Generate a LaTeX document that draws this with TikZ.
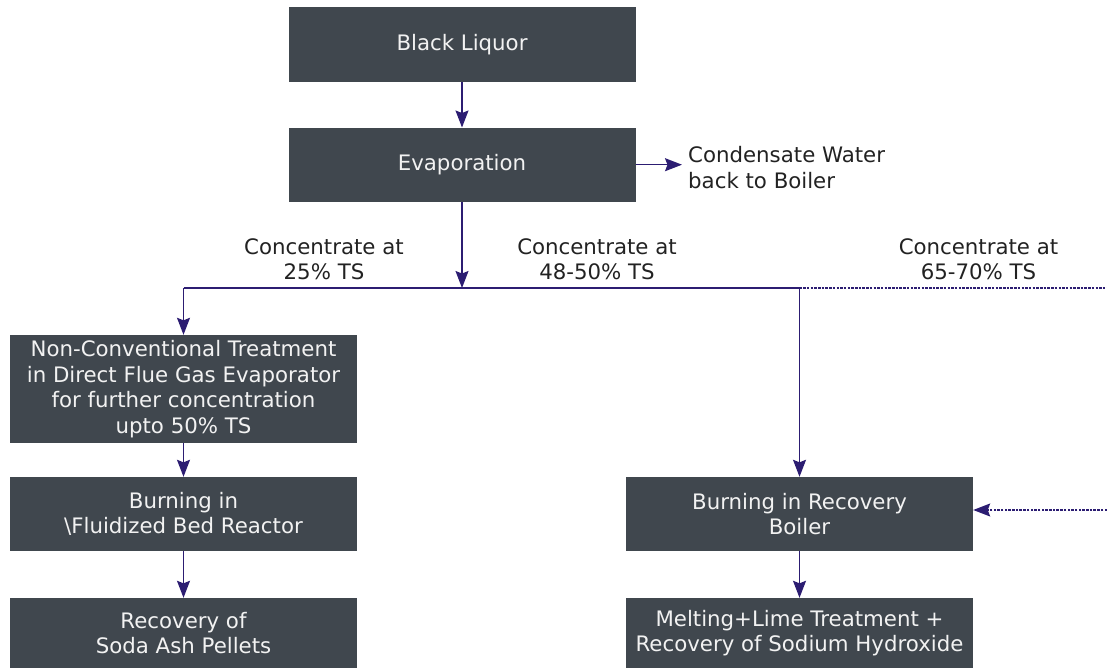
\documentclass[tikz,border=0pt]{standalone}
\usepackage{fontspec}
\setmainfont{DejaVu Sans}
\usetikzlibrary{arrows.meta}
\definecolor{boxfill}{HTML}{40474E}
\definecolor{flow}{HTML}{2C1D72}
\definecolor{ink}{HTML}{222222}
\definecolor{boxtext}{HTML}{F2F2F2}

\begin{document}
\begin{tikzpicture}[x=1pt,y=-1pt,
  stagebox/.style={fill=boxfill, text=boxtext, align=center, minimum width=347pt,
    inner sep=0pt, font=\fontsize{21.3}{25.5}\selectfont},
  flowline/.style={draw=flow, line width=1.4pt},
  tip/.style={-{Stealth[length=17pt,width=13pt,inset=2.5pt]}},
  flowarrow/.style={flowline, tip},
  dotline/.style={draw=flow, line width=1.2pt, dash pattern=on 2.5pt off 1.2pt},
  note/.style={text=ink, align=center, inner sep=0pt, font=\fontsize{21.3}{25.5}\selectfont}
]
\useasboundingbox (0,0) rectangle (1107,668);

% process stages
\node[stagebox, minimum height=75pt] (bl) at (462,44.5) {Black Liquor};
\node[stagebox, minimum height=74pt] (ev) at (462,164.7) {Evaporation};
\node[stagebox, minimum height=108pt] (nc) at (183.5,389) {Non-Conventional Treatment\\in Direct Flue Gas Evaporator\\for further concentration\\upto 50\% TS};
\node[stagebox, minimum height=74pt] (fb) at (183.5,514) {Burning in\\\textbackslash{}Fluidized Bed Reactor};
\node[stagebox, minimum height=70pt] (sa) at (183.5,633) {Recovery of\\Soda Ash Pellets};
\node[stagebox, minimum height=74pt] (rb) at (799.5,514) {Burning in Recovery\\Boiler};
\node[stagebox, minimum height=70pt] (sh) at (799.5,633) {Melting+Lime Treatment +\\Recovery of Sodium Hydroxide};

% side output
\node[note, anchor=west, align=left] (cw) at (688,167.5) {Condensate Water\\back to Boiler};

% concentration labels
\node[note] (c25) at (324,259) {Concentrate at\\25\% TS};
\node[note] (c48) at (597,259) {Concentrate at\\48-50\% TS};
\node[note] (c65) at (978.5,259) {Concentrate at\\65-70\% TS};

% split points on the distribution line
\coordinate (hub) at (462,288);
\coordinate (jl) at (183.5,288);
\coordinate (jr) at (799.5,288);
\coordinate (je) at (1107,288);
\coordinate (re) at (1107,510);
\coordinate (cwin) at (682,164.7);

% connectors
\draw[flowarrow] (bl) -- (ev);
\draw[flowarrow] (ev.east) -- (cwin);
\draw[flowarrow] (ev) -- (hub);
\draw[flowline] (jl) -- (jr);
\draw[dotline] (jr) -- (je);
\draw[flowarrow] (jl) -- (nc);
\draw[flowarrow] (jr) -- (rb);
\draw[dotline, tip] (re) -- (re -| rb.east);
\draw[flowarrow] (nc) -- (fb);
\draw[flowarrow] (fb) -- (sa);
\draw[flowarrow] (rb) -- (sh);
\end{tikzpicture}
\end{document}
